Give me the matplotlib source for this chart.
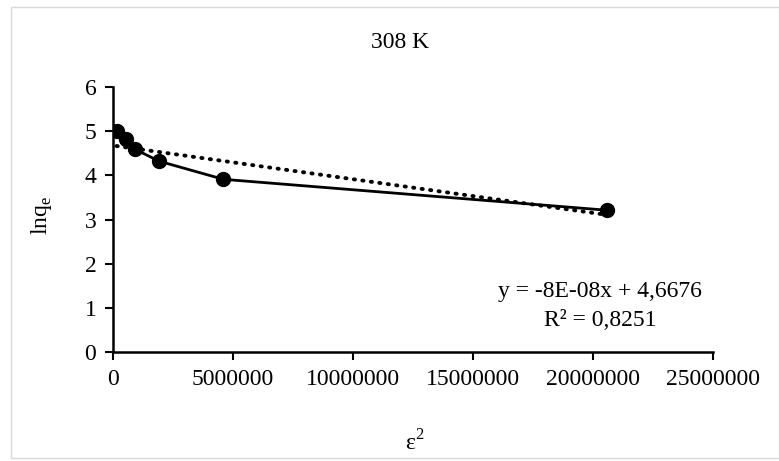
import numpy as np
import matplotlib
matplotlib.use("Agg")
import matplotlib.pyplot as plt
from matplotlib.patches import Rectangle

# Dubinin–Radushkevich data at 308 K
eps_sq = [150000, 540000, 920000, 1920000, 4600000, 20580000]
ln_qe = [5.00, 4.83, 4.59, 4.32, 3.91, 3.21]

x_ticks = [0, 5000000, 10000000, 15000000, 20000000, 25000000]
y_ticks = [0, 1, 2, 3, 4, 5, 6]

title = "308 K"
eq_text = "y = -8E-08x + 4,6676"
r2_text = "R² = 0,8251"

plt.rcParams["font.family"] = ["Liberation Serif", "DejaVu Serif"]
FS = 17

W, H = 779, 461
fig = plt.figure(figsize=(W / 100, H / 100), dpi=100)
ax = fig.add_axes([113 / W, 1 - 352 / H, 600 / W, 265 / H])

# light frame around the chart area
fig.patches.append(Rectangle((11 / W, 3 / H), 1 - 11 / W, 1 - 10 / H,
                             transform=fig.transFigure, fill=False,
                             edgecolor="#d9d9d9", linewidth=1.0))

ax.plot(eps_sq, ln_qe, color="black", linewidth=2, marker="o",
        markersize=10, zorder=3)

# linear trend line
slope, intercept = np.polyfit(eps_sq, ln_qe, 1)
xt = np.array([eps_sq[0], eps_sq[-1]])
ax.plot(xt, slope * xt + intercept, color="black", linewidth=2.8,
        linestyle=(0, (0.3, 1.9)), dash_capstyle="round", zorder=2)

ax.set_xlim(0, 25000000)
ax.set_ylim(0, 6)
ax.set_xticks(x_ticks)
ax.set_xticklabels([str(v) for v in x_ticks])
ax.set_yticks(y_ticks)
ax.set_yticklabels([str(v) for v in y_ticks])

for side in ("top", "right"):
    ax.spines[side].set_visible(False)
for side in ("left", "bottom"):
    ax.spines[side].set_linewidth(1.8)

ax.tick_params(axis="both", direction="out", length=6, width=1.5,
               labelsize=FS, colors="black")
ax.tick_params(axis="x", pad=6)
ax.tick_params(axis="y", pad=6)

fig.text(400 / W, 1 - 43 / H, title, fontsize=FS, ha="center", va="center")
fig.text(42 / W, 1 - 215 / H, "lnq$_\\mathregular{e}$", fontsize=FS,
         rotation=90, ha="center", va="center")
fig.text(415 / W, 1 - 443 / H, "ε$^\\mathregular{2}$", fontsize=FS,
         ha="center", va="center")

ax.text(20300000, 1.38, eq_text, fontsize=FS, ha="center", va="center")
ax.text(20300000, 0.72, r2_text, fontsize=FS, ha="center", va="center")

fig.savefig("out.png", dpi=100)
